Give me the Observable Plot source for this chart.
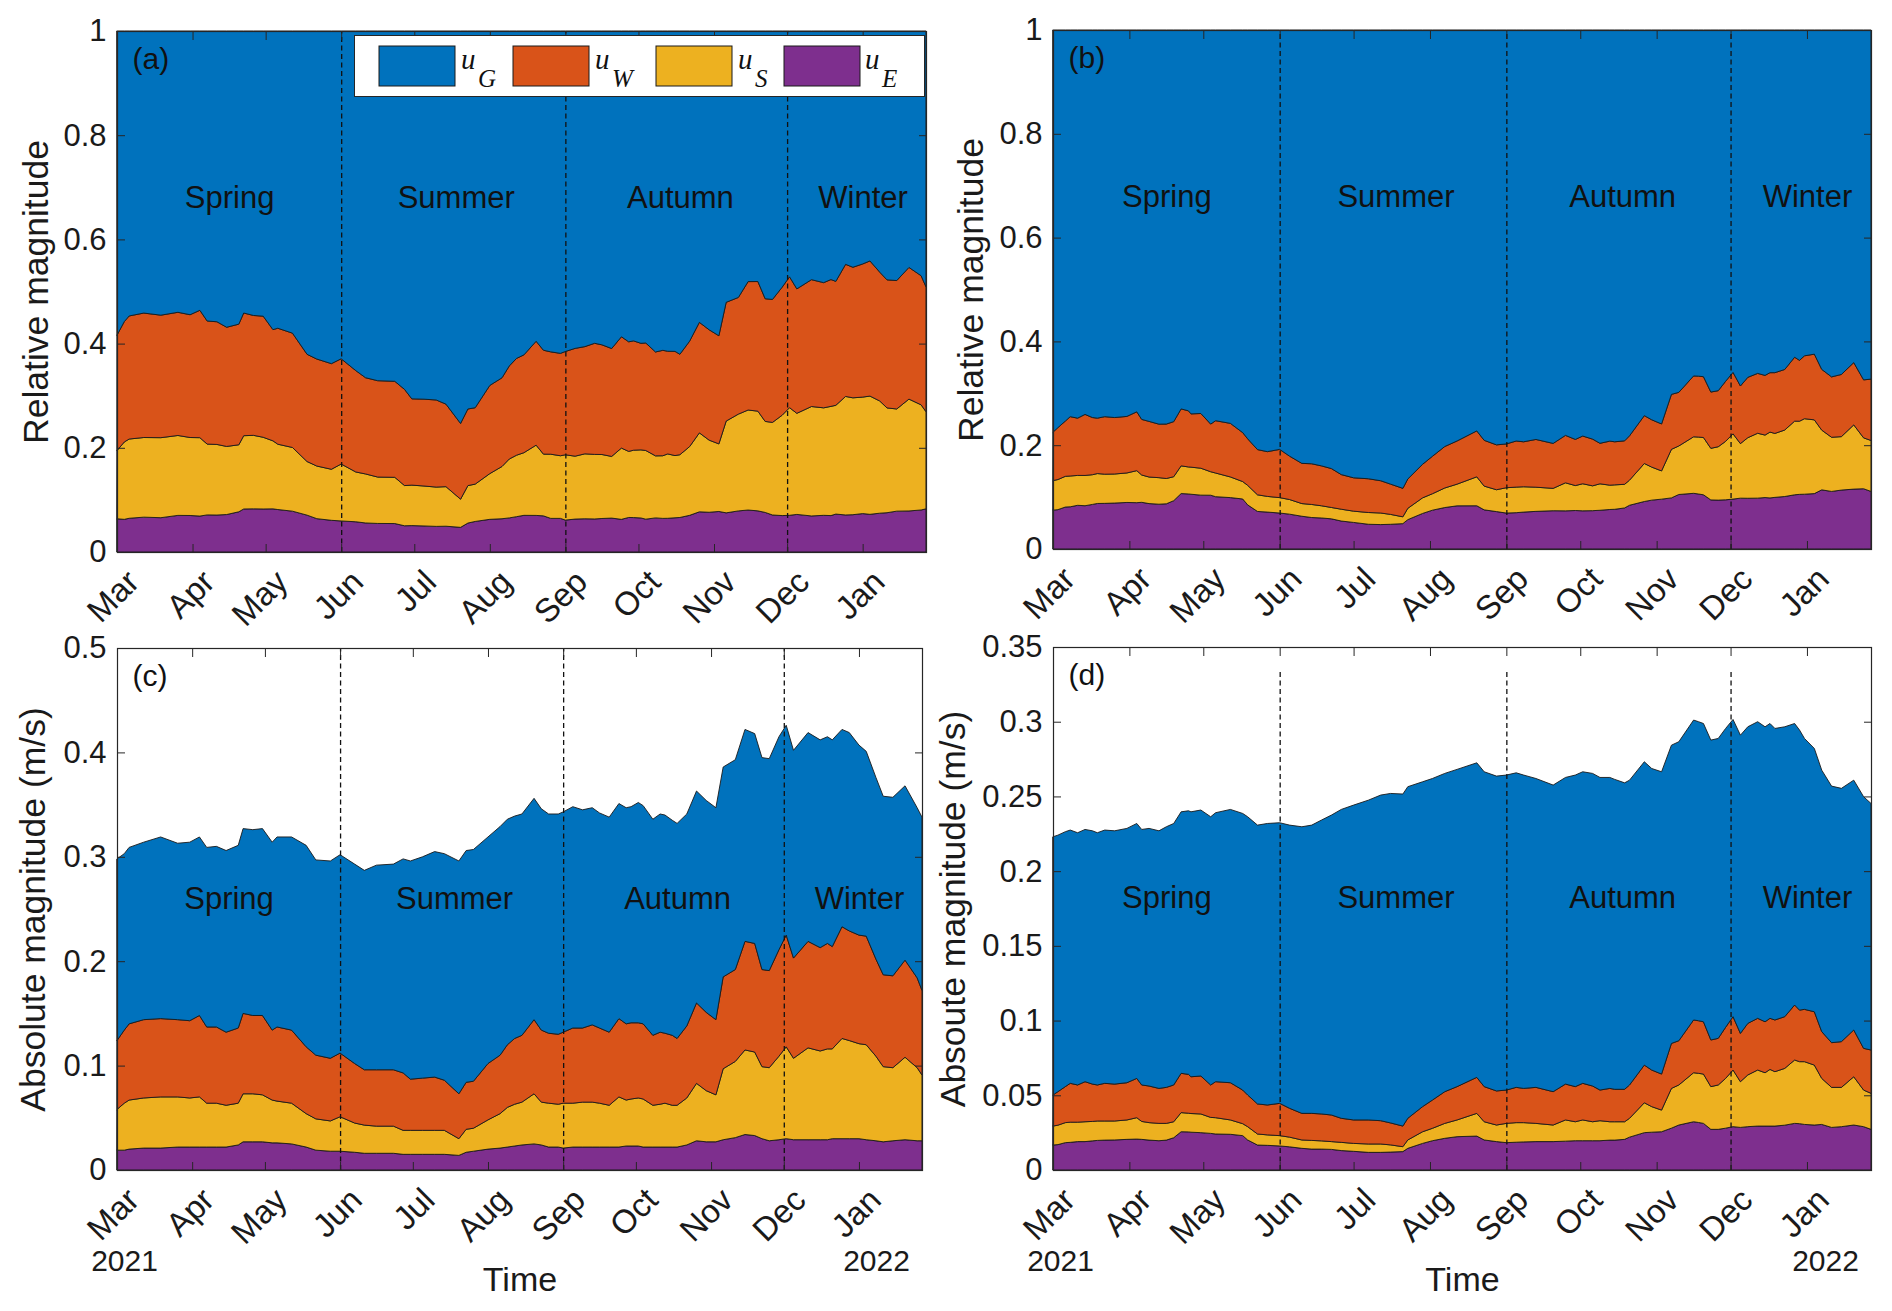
<!DOCTYPE html>
<html>
<head>
<meta charset="utf-8">
<script src="https://cdn.jsdelivr.net/npm/d3@7"></script>
<script src="https://cdn.jsdelivr.net/npm/@observablehq/plot@0.6"></script>
<style>
  body { margin: 0; background: #fff; }
  #root { position: relative; width: 1892px; height: 1311px; overflow: hidden; background: #fff;
          font-family: "Liberation Sans", Arial, Helvetica, sans-serif; }
  #root > svg { position: absolute; }
</style>
</head>
<body>
<div id="root"></div>
<script>
// ---------- shared values ----------
const startDate = "2021-03-01";
const endDate = "2022-01-27";
const series = ["uE", "uS", "uW", "uG"];              // bottom -> top
const seriesColors = ["#7E2F8E", "#EDB120", "#D95319", "#0072BD"];
const legendKeys = ["uG", "uW", "uS", "uE"];
const legendSubs = ["G", "W", "S", "E"];
const monthTicks = ["2021-03-01","2021-04-01","2021-05-01","2021-06-01","2021-07-01","2021-08-01",
                    "2021-09-01","2021-10-01","2021-11-01","2021-12-01","2022-01-01"];
const seasonBounds = ["2021-06-01", "2021-09-01", "2021-12-01"];
const seasonNames = ["Spring", "Summer", "Autumn", "Winter"];
const seasonCenters = ["2021-04-16", "2021-07-18", "2021-10-18", "2022-01-01"];
const yTicksRel = [0, 0.2, 0.4, 0.6, 0.8, 1];
const yTicksC = [0, 0.1, 0.2, 0.3, 0.4, 0.5];
const yTicksD = [0, 0.05, 0.1, 0.15, 0.2, 0.25, 0.3, 0.35];

// ---------- panel (c) absolute magnitudes (m/s); day offsets from 2021-03-01 ----------
const dayC = [0,3,5,11,18,25,30,34,37,41, 45,50,52,56,60,64,66,72,78,82, 88,92,98,102,107,114,118,121,126,131,
  135,141,144,147,153,158,161,164,167,172, 175,178,182,184,188,192,196,199,203,207, 210,212,215,217,221,224,226,229,231,235,
  239,243,247,250,255,259,263,266,269,273, 276,279,285,290,293,295,299,302,306,309, 313,316,320,325,330,332];
const uE_c = [.019,.019,.020,.021,.021,.022,.022,.022,.022,.022, .022,.024,.027,.027,.027,.026,.026,.025,.022,.019,
  .018,.018,.017,.016,.016,.016,.015,.015,.015,.015, .015,.014,.017,.018,.020,.021,.022,.023,.024,.025,
  .024,.022,.022,.021,.022,.022,.022,.022,.022,.022, .023,.023,.023,.022,.022,.022,.022,.022,.022,.024,
  .028,.027,.027,.029,.031,.034,.033,.030,.028,.029, .030,.029,.029,.029,.029,.030,.030,.030,.030,.029,
  .028,.027,.028,.029,.028,.028];
const uS_c = [.039,.045,.047,.048,.049,.048,.047,.048,.042,.042, .040,.040,.046,.046,.045,.041,.040,.039,.032,.030,
  .029,.033,.028,.027,.026,.026,.023,.023,.023,.023, .023,.016,.022,.022,.028,.033,.038,.040,.041,.048,
  .041,.042,.041,.043,.042,.043,.043,.042,.040,.048, .044,.045,.046,.046,.040,.041,.042,.040,.040,.045,
  .055,.049,.045,.068,.073,.081,.080,.069,.070,.080, .088,.078,.088,.085,.087,.086,.096,.094,.091,.091,
  .081,.072,.070,.079,.070,.063];
const uW_c = [.066,.070,.073,.075,.075,.074,.074,.078,.073,.073, .070,.072,.077,.075,.076,.067,.071,.070,.064,.061,
  .060,.061,.057,.053,.054,.054,.055,.049,.050,.051, .048,.043,.045,.045,.054,.056,.060,.063,.064,.071,
  .069,.067,.067,.068,.072,.071,.074,.072,.070,.075, .073,.073,.072,.072,.067,.069,.067,.067,.064,.069,
  .077,.075,.072,.088,.088,.104,.104,.093,.093,.102, .107,.096,.102,.099,.101,.098,.107,.105,.104,.104,
  .093,.088,.088,.093,.086,.081];
const uG_c = [.174,.169,.169,.170,.174,.169,.171,.171,.172,.173, .174,.175,.177,.178,.179,.180,.182,.185,.193,.187,
  .189,.190,.191,.191,.196,.197,.205,.209,.212,.216, .217,.223,.222,.222,.217,.219,.216,.213,.212,.212,
  .212,.210,.211,.211,.212,.209,.208,.206,.206,.206, .207,.207,.211,.209,.207,.209,.209,.206,.206,.203,
  .203,.203,.203,.201,.201,.203,.201,.203,.203,.204, .201,.199,.200,.199,.198,.198,.189,.190,.182,.177,
  .174,.171,.171,.167,.163,.166];

// ---------- panel (d) absolute magnitudes (m/s) ----------
const dayD = [0,2,5,7,10,13,16,18,21,25, 30,34,36,39,43,46,49,52,55,56, 60,64,66,72,77,79,83,87,92,96,
  101,105,109,113,117,122,128,133,137,142, 144,150,154,159,164,172,175,180,184,188, 191,196,203,208,212,215,219,222,226,228,
  232,234,240,243,247,251,254,260,262,264, 267,270,273,276,279,282,286,289,291,293, 297,301,303,305,309,312,316,320,325,329, 332];
const uE_d = [.0167,.017,.0183,.0185,.019,.019,.0195,.0198,.020,.0201, .0205,.0207,.0205,.020,.0196,.020,.0216,.0256,.0255,.0253,
  .025,.0245,.0241,.0239,.023,.0201,.0167,.0165,.0161,.0155, .0145,.014,.014,.0138,.013,.0125,.0118,.0118,.012,.0123,
  .0145,.0178,.0196,.0212,.0223,.0227,.0201,.019,.0183,.0186, .0188,.019,.019,.0193,.0196,.0196,.0196,.0196,.020,.020,
  .0205,.022,.025,.0253,.0256,.028,.0301,.0323,.0318,.0312, .0272,.0272,.028,.029,.0285,.029,.0294,.0294,.0294,.0294,
  .030,.0312,.031,.0305,.0301,.0305,.0285,.029,.0301,.029, .0272];
const uS_d = [.0127,.013,.0134,.0135,.013,.0133,.013,.013,.0128,.0127, .013,.0143,.012,.0117,.0116,.0112,.0107,.0128,.0125,.0125,
  .0125,.0107,.0109,.0096,.008,.0089,.0074,.007,.0069,.0065, .0056,.0058,.0055,.0052,.0055,.0053,.0056,.0056,.0048,.0033,
  .0056,.0078,.0083,.010,.0112,.0152,.0122,.0111,.0129,.0131, .0129,.0122,.0111,.0142,.0127,.0139,.0127,.0134,.0123,.0123,
  .0118,.0126,.020,.0171,.0145,.0266,.0268,.0328,.0329,.033, .0286,.0297,.0333,.0379,.0306,.0346,.0375,.0357,.0379,.0364,
  .038,.0424,.0415,.042,.0401,.0308,.0268,.0263,.0323,.0245, .0241];
const uW_d = [.0208,.0224,.0241,.026,.0249,.0268,.025,.0241,.0252,.0247, .0249,.0263,.0244,.0245,.0234,.0241,.0246,.0263,.026,.0246,
  .0254,.0217,.0241,.0249,.0225,.0212,.0201,.020,.0216,.0193, .0178,.0181,.018,.0178,.0161,.0157,.0161,.0156,.0147,.0138,
  .0145,.0168,.0189,.0212,.0223,.0241,.0235,.0228,.0223,.0236, .0229,.0241,.0223,.024,.0235,.0245,.0239,.0205,.0223,.0217,
  .0217,.0223,.0252,.0245,.0241,.0301,.0296,.0353,.0352,.035, .0312,.0312,.0342,.0357,.0323,.0345,.0346,.0341,.0342,.0346,
  .0346,.0368,.0345,.035,.0357,.0313,.0299,.0306,.0313,.0279, .029];
const uG_d = [.1728,.1717,.1706,.1695,.1688,.1688,.1695,.1688,.1695,.1695, .1702,.1706,.171,.1724,.1724,.1744,.175,.175,.1764,.1773,
  .178,.1795,.180,.1829,.1851,.1862,.1866,.1884,.1878,.1895, .1918,.1929,.1967,.2007,.2067,.2107,.214,.2179,.2205,.2222,
  .2219,.2174,.2152,.213,.2123,.2105,.2107,.2107,.2108,.2105, .2097,.2067,.2052,.2052,.2085,.2085,.2092,.2092,.2081,.2074,
  .2051,.204,.203,.2018,.2023,.1996,.2001,.2007,.2001,.1996, .2007,.2007,.200,.1989,.1996,.1985,.1985,.1974,.1973,.1951,
  .194,.1884,.1874,.1813,.1762,.175,.1717,.1695,.1672,.1684, .165];

// ---------- build long tables ----------
const t0 = new Date(startDate);
function longTable(days, arrays) {
  const rows = [];
  days.forEach((d, i) => series.forEach((k, j) => rows.push({date: d3.utcDay.offset(t0, d), key: k, value: arrays[j][i]})));
  return rows;
}
const dataC = longTable(dayC, [uE_c, uS_c, uW_c, uG_c]);
const dataD = longTable(dayD, [uE_d, uS_d, uW_d, uG_d]);

const FONT = '"Liberation Sans", Arial, Helvetica, sans-serif';
const fmtY = d => String(+d.toFixed(2));
const months = monthTicks.map(s => new Date(s));
const ink = "#262626";

function panel(cfg) {
  const marks = [
    Plot.areaY(cfg.data, {x: "date", y: "value", z: "key", fill: "key", order: series,
      offset: cfg.normalize ? "normalize" : null, stroke: "#1a1a1a", strokeWidth: 0.9, strokeLinejoin: "round"}),
    Plot.ruleX(seasonBounds.map(s => new Date(s)), {x: d => d, y1: 0, y2: cfg.ruleTop,
      stroke: "#111", strokeWidth: 1.3, strokeDasharray: "5,3.5"}),
    Plot.text(seasonNames, {x: (d, i) => new Date(seasonCenters[i]), y: cfg.seasonY, text: d => d,
      fontSize: 31, fill: "#111"}),
    Plot.text([cfg.letter], {frameAnchor: "top-left", dx: 15, dy: 16, textAnchor: "start", lineAnchor: "top",
      fontSize: 30, fill: "#111"}),
    // inward ticks on all four sides
    Plot.axisY({anchor: "left", ticks: cfg.yTicks, tickSize: 8, dx: 8, fill: "none", stroke: ink}),
    Plot.axisY({anchor: "right", ticks: cfg.yTicks, tickSize: 8, dx: -8, fill: "none", stroke: ink}),
    Plot.axisX({anchor: "bottom", ticks: months, tickSize: 8, dy: -8, fill: "none", stroke: ink}),
    Plot.axisX({anchor: "top", ticks: months, tickSize: 8, dy: 8, fill: "none", stroke: ink}),
    // tick labels
    Plot.axisY({anchor: "left", ticks: cfg.yTicks, tickSize: 0, tickPadding: 11, tickFormat: fmtY,
      fontSize: 31, fill: "#1a1a1a", label: null}),
    Plot.axisX({anchor: "bottom", ticks: months, tickSize: 0, tickPadding: 24, dx: 16, tickRotate: -45,
      tickFormat: d3.utcFormat("%b"), fontSize: 33, fill: "#1a1a1a", label: null}),
    Plot.text([cfg.ylabel], {frameAnchor: "left", rotate: -90, dx: -cfg.ylabelOffset, textAnchor: "middle",
      lineAnchor: "middle", fontSize: 35.5, fill: "#1a1a1a"}),
    Plot.frame({stroke: ink, strokeWidth: 1.2})
  ];
  if (cfg.years) {
    marks.push(
      Plot.text(["2021"], {frameAnchor: "bottom-left", dx: 7, dy: 100, textAnchor: "middle", lineAnchor: "bottom",
        fontSize: 30, fill: "#1a1a1a"}),
      Plot.text(["2022"], {frameAnchor: "bottom-right", dx: -46, dy: 100, textAnchor: "middle", lineAnchor: "bottom",
        fontSize: 30, fill: "#1a1a1a"}),
      Plot.text(["Time"], {frameAnchor: "bottom", dy: 120, textAnchor: "middle", lineAnchor: "bottom",
        fontSize: 34, fill: "#1a1a1a"})
    );
  }
  const svg = Plot.plot({
    width: cfg.width, height: cfg.height,
    marginLeft: cfg.mL, marginRight: cfg.mR, marginTop: cfg.mT, marginBottom: cfg.mB,
    x: {type: "utc", domain: [new Date(startDate), new Date(endDate)]},
    y: {domain: cfg.yDomain},
    color: {domain: series, range: seriesColors},
    style: {background: "transparent", overflow: "visible", fontFamily: FONT, color: "#1a1a1a"},
    marks
  });
  svg.style.left = cfg.left + "px";
  svg.style.top = cfg.top + "px";
  svg.style.position = "absolute";
  svg.style.maxWidth = "none";
  document.getElementById("root").appendChild(svg);
  return svg;
}

panel({data: dataC, normalize: true, left: 0, top: 0, width: 946, height: 600, mL: 117, mR: 20, mT: 31, mB: 48,
  yDomain: [0, 1], yTicks: yTicksRel, ruleTop: 1, seasonY: 0.68, letter: "(a)",
  ylabel: "Relative magnitude", ylabelOffset: 81, years: false});
panel({data: dataD, normalize: true, left: 946, top: 0, width: 946, height: 600, mL: 107, mR: 21, mT: 30, mB: 51,
  yDomain: [0, 1], yTicks: yTicksRel, ruleTop: 1, seasonY: 0.68, letter: "(b)",
  ylabel: "Relative magnitude", ylabelOffset: 82, years: false});
panel({data: dataC, normalize: false, left: 0, top: 600, width: 946, height: 711, mL: 117, mR: 24, mT: 48, mB: 141,
  yDomain: [0, 0.5], yTicks: yTicksC, ruleTop: 0.5, seasonY: 0.26, letter: "(c)",
  ylabel: "Absolute magnitude (m/s)", ylabelOffset: 84, years: true});
panel({data: dataD, normalize: false, left: 946, top: 600, width: 946, height: 711, mL: 107, mR: 21, mT: 47, mB: 141,
  yDomain: [0, 0.35], yTicks: yTicksD, ruleTop: 0.335, seasonY: 0.182, letter: "(d)",
  ylabel: "Absoute magnitude (m/s)", ylabelOffset: 100, years: true});

// ---------- legend (inside panel a) ----------
(function legend() {
  const root = d3.select("#root");
  const svg = root.append("svg").attr("width", 572).attr("height", 63)
    .style("left", "354px").style("top", "35px").style("position", "absolute");
  svg.append("rect").attr("x", 0.5).attr("y", 0.5).attr("width", 570).attr("height", 61)
    .attr("fill", "#fff").attr("stroke", ink).attr("stroke-width", 1);
  const swatchX = [25, 159, 302, 430];
  const labelX = [107, 241, 384, 511];
  legendKeys.forEach((k, i) => {
    const c = seriesColors[series.indexOf(k)];
    svg.append("rect").attr("x", swatchX[i]).attr("y", 11).attr("width", 76).attr("height", 40)
      .attr("fill", c).attr("stroke", "#1a1a1a").attr("stroke-width", 1);
    const t = svg.append("text").attr("x", labelX[i]).attr("y", 34)
      .attr("font-family", '"Liberation Serif", "DejaVu Serif", serif').attr("font-style", "italic")
      .attr("font-size", 29).attr("fill", "#111");
    t.append("tspan").text("u");
    t.append("tspan").attr("x", labelX[i] + 17).attr("y", 52).attr("font-size", 25).text(legendSubs[i]);
  });
})();
</script>
</body>
</html>
